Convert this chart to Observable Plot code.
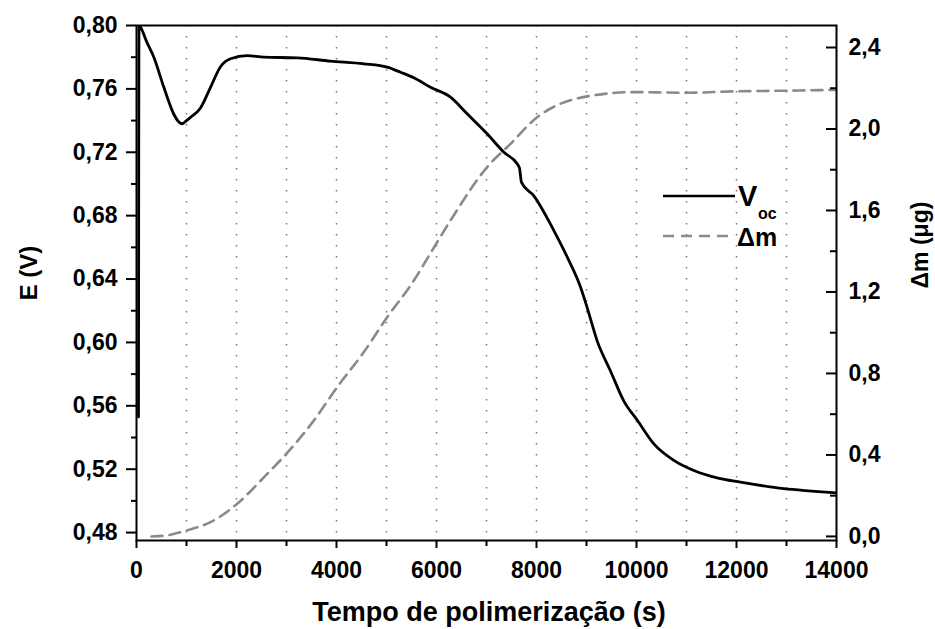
<!DOCTYPE html>
<html><head><meta charset="utf-8">
<script src="https://cdn.jsdelivr.net/npm/d3@7"></script>
<script src="https://cdn.jsdelivr.net/npm/@observablehq/plot@0.6"></script>
<style>
html,body{margin:0;padding:0;background:#fff;}
</style></head><body><div id="chart"></div>
<script>
// Open-circuit potential (V) vs time (s)
const vocTime = [40, 50, 80, 200, 347, 547, 747, 850, 913, 1000, 1080, 1280, 1480, 1680, 1880, 2213, 2547, 3213, 3880, 4547, 5013, 5280, 5547, 5880, 6280, 6613, 7013, 7347, 7613, 7660, 7700, 7947, 8347, 8613, 8880, 9013, 9213, 9480, 9747, 10013, 10347, 10747, 11147, 11613, 12080, 12947, 13500, 14000];
const vocE    = [0.553, 0.800, 0.799, 0.790, 0.780, 0.761, 0.744, 0.739, 0.738, 0.740, 0.742, 0.748, 0.761, 0.774, 0.779, 0.781, 0.780, 0.7796, 0.7775, 0.7758, 0.7737, 0.7705, 0.767, 0.761, 0.7548, 0.7443, 0.7317, 0.720, 0.7127, 0.710, 0.701, 0.6925, 0.6706, 0.654, 0.635, 0.622, 0.601, 0.582, 0.563, 0.551, 0.536, 0.5256, 0.5192, 0.5145, 0.5118, 0.5077, 0.5062, 0.505];
// Mass change (µg) vs time (s)
const dmTime = [300, 600, 1013, 1480, 2013, 2547, 3013, 3547, 4013, 4547, 5013, 5547, 5813, 6280, 7013, 7480, 8013, 8480, 9013, 9947, 11000, 12000, 13000, 14000];
const dmMass = [0.00, 0.005, 0.03, 0.07, 0.16, 0.29, 0.41, 0.569, 0.733, 0.905, 1.076, 1.256, 1.363, 1.551, 1.813, 1.927, 2.058, 2.124, 2.16, 2.181, 2.178, 2.185, 2.188, 2.192];

const xTicks = [0, 2000, 4000, 6000, 8000, 10000, 12000, 14000];
const xMinorTicks = [1000, 3000, 5000, 7000, 9000, 11000, 13000];
const gridTimes = [1000, 2000, 3000, 4000, 5000, 6000, 7000, 8000, 9000, 10000, 11000, 12000, 13000];
const eTicks = [0.48, 0.52, 0.56, 0.60, 0.64, 0.68, 0.72, 0.76, 0.80];
const eMinorTicks = [0.50, 0.54, 0.58, 0.62, 0.66, 0.70, 0.74, 0.78];
const mTicks = [0.0, 0.4, 0.8, 1.2, 1.6, 2.0, 2.4];
const mMinorTicks = [0.2, 0.6, 1.0, 1.4, 1.8, 2.2];
const eDomain = [0.475, 0.80];
const mDomain = [-0.02, 2.508];

const xTitle = "Tempo de polimerização (s)";
const yTitle = "E (V)";
const y2Title = "Δm (μg)";

const mToE = d3.scaleLinear(mDomain, eDomain);
const voc = vocTime.map((t, i) => ({t, e: vocE[i]}));
const dm = dmTime.map((t, i) => ({t, e: mToE(dmMass[i])}));
const comma = s => s.replace(".", ",");

const FONT = "'Liberation Sans', Arial, sans-serif";
const TICKFS = 23;

const chart = Plot.plot({
  width: 935, height: 629,
  marginLeft: 136, marginRight: 99, marginTop: 25, marginBottom: 89,
  x: {domain: [0, 14000]},
  y: {domain: eDomain},
  style: {fontFamily: FONT, fontSize: "22px", fontWeight: "bold", background: "#fff", color: "#000", overflow: "visible"},
  marks: [
    Plot.ruleX(gridTimes, {stroke: "#777", strokeWidth: 1.5, strokeDasharray: "1.5,9.5"}),
    Plot.line(dm, {x: "t", y: "e", stroke: "#8a8a8a", strokeWidth: 2.6, strokeDasharray: "11,7", curve: "monotone-x", clip: true}),
    Plot.line(voc, {x: "t", y: "e", stroke: "#000", strokeWidth: 2.8, curve: "monotone-x", clip: true}),
    Plot.frame({stroke: "#000", strokeWidth: 2}),
    Plot.axisX({ticks: xTicks, tickSize: 8, tickPadding: 13, strokeWidth: 2, fontSize: TICKFS, fontWeight: "bold", tickFormat: d => String(d), label: null}),
    Plot.axisX({ticks: xMinorTicks, tickSize: 6, strokeWidth: 2, tickFormat: () => "", label: null}),
    Plot.axisY({anchor: "left", ticks: eTicks, tickSize: 10, tickPadding: 9, strokeWidth: 2, fontSize: TICKFS, fontWeight: "bold", tickFormat: d => comma(d3.format(".2f")(d)), label: null}),
    Plot.axisY({anchor: "left", ticks: eMinorTicks, tickSize: 5, strokeWidth: 2, tickFormat: () => "", label: null}),
    Plot.axisY({anchor: "right", ticks: mTicks.map(mToE), tickSize: 0, tickPadding: 12, fontSize: TICKFS, fontWeight: "bold", tickFormat: d => comma(d3.format(".1f")(mToE.invert(d))), label: null}),
    Plot.ruleY(mTicks.map(mToE), {insetLeft: 690, stroke: "#000", strokeWidth: 2}),
    Plot.ruleY(mMinorTicks.map(mToE), {insetLeft: 694, stroke: "#000", strokeWidth: 2})
  ]
});

document.getElementById("chart").appendChild(chart);

const svg = d3.select(chart);
const g = svg.append("g").attr("font-family", FONT).attr("font-weight", "bold").attr("fill", "#000");

g.append("text").attr("x", 489).attr("y", 621).attr("text-anchor", "middle").attr("font-size", 27).text(xTitle);
g.append("text").attr("transform", "translate(37,273) rotate(-90)").attr("text-anchor", "middle").attr("font-size", 24).text(yTitle);
g.append("text").attr("transform", "translate(928,245) rotate(-90)").attr("text-anchor", "middle").attr("font-size", 23).text(y2Title);

// legend
g.append("line").attr("x1", 663).attr("x2", 735).attr("y1", 196).attr("y2", 196).attr("stroke", "#000").attr("stroke-width", 2.6);
g.append("text").attr("x", 738).attr("y", 206).attr("text-anchor", "start").attr("font-size", 29).text("V");
g.append("text").attr("x", 758).attr("y", 219).attr("text-anchor", "start").attr("font-size", 16).text("oc");
g.append("line").attr("x1", 663).attr("x2", 735).attr("y1", 236).attr("y2", 236).attr("stroke", "#8a8a8a").attr("stroke-width", 2.6).attr("stroke-dasharray", "11,7");
g.append("text").attr("x", 737).attr("y", 246).attr("text-anchor", "start").attr("font-size", 25).text("Δm");
</script>
</body></html>
